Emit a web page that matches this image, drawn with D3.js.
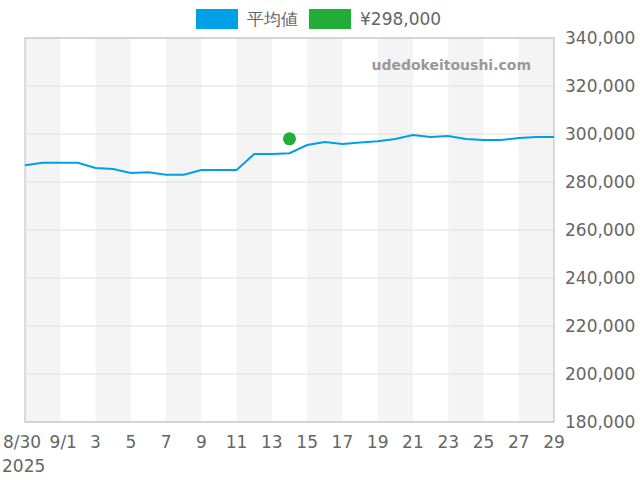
<!DOCTYPE html>
<html><head><meta charset="utf-8">
<script src="https://cdn.jsdelivr.net/npm/d3@7"></script>
<style>body{margin:0;background:#fff}</style></head>
<body><svg id="c" width="640" height="480"></svg>
<script>
const avgValues=[287000,288000,288000,288000,285800,285400,283800,284100,283000,283000,285000,285000,285000,291700,291700,292000,295400,296700,295800,296500,297000,297900,299600,298800,299200,297900,297500,297500,298300,298800,298800];
const pointDate="2025-09-14", pointValue=298000;
const yTicks=[180000,200000,220000,240000,260000,280000,300000,320000,340000];
const seriesNames=["平均値","¥298,000"];
const start=new Date(2025,7,30);
const dates=avgValues.map((v,i)=>new Date(2025,7,30+i));
const svg=d3.select("#c");
const L=25,R=554,T=38,B=422;
const x=d3.scaleTime().domain([start,new Date(2025,8,29)]).range([L,R]);
const y=d3.scaleLinear().domain([180000,340000]).range([B,T]);
const font="DejaVu Sans";
for(let i=0;i<30;i+=4){
  const a=x(new Date(2025,7,30+i)),b=x(new Date(2025,7,32+i));
  svg.append("rect").attr("x",a).attr("y",T).attr("width",Math.min(b,R)-a).attr("height",B-T).attr("fill","#f4f4f4");
}
yTicks.forEach(t=>{
  svg.append("line").attr("x1",L).attr("x2",R).attr("y1",y(t)).attr("y2",y(t)).attr("stroke","#e0e0e0");
  svg.append("text").attr("x",565).attr("y",y(t)+6).attr("font-family",font).attr("font-size",17).attr("fill","#666").text(d3.format(",")(t));
});
svg.append("rect").attr("x",L).attr("y",T).attr("width",R-L).attr("height",B-T).attr("fill","none").attr("stroke","#bbb");
for(let i=0;i<=30;i+=2){
  const d=new Date(2025,7,30+i);
  let lab=i===0?"8/30":(i===2?"9/1":String(d.getDate()));
  svg.append("text").attr("x",x(d)+(i===0?-3:i===2?3:0)).attr("y",448).attr("font-family",font).attr("font-size",17).attr("fill","#666").attr("text-anchor","middle").text(lab);
}
svg.append("text").attr("x",2).attr("y",472).attr("font-family",font).attr("font-size",17).attr("fill","#666").text("2025");
svg.append("text").attr("x",531).attr("y",70).attr("text-anchor","end").attr("font-family",font).attr("font-weight","bold").attr("font-size",14).attr("fill","#999").text("udedokeitoushi.com");
svg.append("path").datum(avgValues).attr("fill","none").attr("stroke","#00a0e9").attr("stroke-width",2)
 .attr("d",d3.line().x((d,i)=>x(dates[i])).y(d=>y(d)));
svg.append("circle").attr("cx",x(d3.timeParse("%Y-%m-%d")(pointDate))).attr("cy",y(pointValue)).attr("r",6.5).attr("fill","#22ac38");
const lg=[{c:"#00a0e9",x:196},{c:"#22ac38",x:309}];
lg.forEach((l,i)=>{
  svg.append("rect").attr("x",l.x).attr("y",9).attr("width",42).attr("height",20).attr("fill",l.c);
  svg.append("text").attr("x",l.x+51).attr("y",25).attr("font-family",font).attr("font-size",17).attr("fill","#666").text(seriesNames[i]);
});
</script></body></html>
